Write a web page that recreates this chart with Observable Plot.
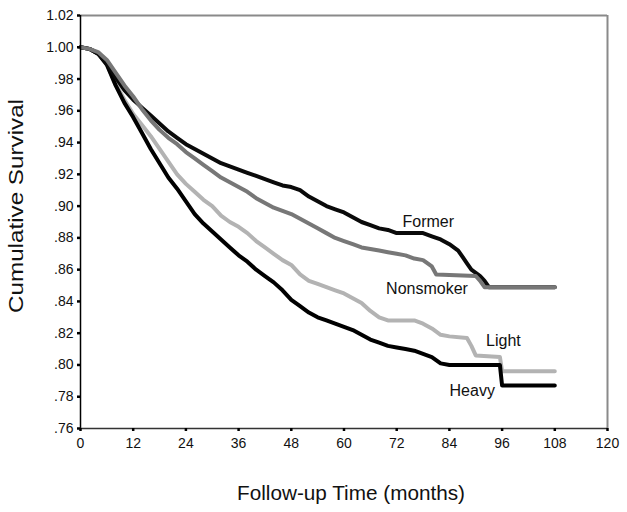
<!DOCTYPE html>
<html><head><meta charset="utf-8">
<script src="https://cdn.jsdelivr.net/npm/d3@7"></script>
<script src="https://cdn.jsdelivr.net/npm/@observablehq/plot@0.6"></script>
<style>body{margin:0;background:#fff;} svg{font-family:"Liberation Sans",Arial,sans-serif;}</style>
</head><body><div id="chart"></div>
<script>
const xTicks = [0, 12, 24, 36, 48, 60, 72, 84, 96, 108, 120];
const yTicks = [0.76, 0.78, 0.80, 0.82, 0.84, 0.86, 0.88, 0.90, 0.92, 0.94, 0.96, 0.98, 1.00, 1.02];

const formerMonths = [0,2,4,6,8,10,12,14,16,18,20,22,24,26,28,30,32,34,36,38,40,42,44,46,48,50,52,54,56,58,60,62,64,66,68,70,72,76,78,80,82,84,86,87,88,89,90,91,92,93,108];
const formerValues = [1.000,0.999,0.996,0.990,0.981,0.973,0.967,0.962,0.957,0.952,0.947,0.943,0.939,0.936,0.933,0.930,0.927,0.925,0.923,0.921,0.919,0.917,0.915,0.913,0.912,0.910,0.906,0.903,0.900,0.898,0.896,0.893,0.890,0.888,0.886,0.885,0.883,0.883,0.883,0.881,0.879,0.876,0.872,0.868,0.864,0.860,0.858,0.856,0.853,0.849,0.849];

const nonsmokerMonths = [0,2,4,6,8,10,12,14,16,18,20,22,24,26,28,30,32,34,36,38,40,42,44,46,48,50,52,54,56,58,60,62,64,66,68,70,72,74,76,78,80,81,90,91,92,108];
const nonsmokerValues = [1.000,0.999,0.997,0.992,0.984,0.976,0.969,0.961,0.954,0.948,0.943,0.939,0.934,0.930,0.926,0.922,0.918,0.915,0.912,0.909,0.905,0.902,0.899,0.897,0.895,0.892,0.889,0.886,0.883,0.880,0.878,0.876,0.874,0.873,0.872,0.871,0.870,0.869,0.867,0.866,0.862,0.857,0.856,0.853,0.849,0.849];

const lightMonths = [0,2,4,6,8,10,12,14,16,18,20,22,24,26,28,30,32,34,36,38,40,42,44,46,48,50,52,54,56,58,60,62,64,66,68,70,72,76,78,80,82,84,88,89,90,95.5,96,108];
const lightValues = [1.000,0.999,0.996,0.989,0.977,0.967,0.958,0.951,0.944,0.936,0.928,0.920,0.914,0.909,0.904,0.900,0.894,0.890,0.887,0.883,0.878,0.874,0.870,0.866,0.863,0.857,0.853,0.851,0.849,0.847,0.845,0.842,0.839,0.834,0.830,0.828,0.828,0.828,0.826,0.823,0.819,0.818,0.817,0.812,0.806,0.805,0.796,0.796];

const heavyMonths = [0,2,4,6,8,10,12,14,16,18,20,22,24,26,28,30,32,34,36,38,40,42,44,46,48,50,52,54,56,58,60,62,64,66,68,70,72,74,76,78,80,82,84,95.5,96,108];
const heavyValues = [1.000,0.999,0.996,0.989,0.976,0.965,0.956,0.946,0.936,0.927,0.918,0.911,0.903,0.895,0.889,0.884,0.879,0.874,0.869,0.865,0.860,0.856,0.852,0.847,0.841,0.837,0.833,0.830,0.828,0.826,0.824,0.822,0.819,0.816,0.814,0.812,0.811,0.810,0.809,0.807,0.805,0.801,0.800,0.800,0.787,0.787];

const seriesNames = ["Light", "Heavy", "Former", "Nonsmoker"];
const seriesColors = ["#b3b3b3", "#000000", "#0a0a0a", "#777777"];
const seriesMonths = [lightMonths, heavyMonths, formerMonths, nonsmokerMonths];
const seriesValues = [lightValues, heavyValues, formerValues, nonsmokerValues];

const labelNames = ["Former", "Nonsmoker", "Light", "Heavy"];
const labelMonths = [79.2, 78.9, 96.3, 89.2];
const labelValues = [0.890, 0.848, 0.815, 0.784];

const yFmt = d => d >= 1 ? d.toFixed(2) : d.toFixed(2).replace(/^0/, "");

const lineMarks = seriesNames.map((name, k) => {
  const rows = seriesMonths[k].map((m, i) => ({month: m, value: seriesValues[k][i]}));
  return Plot.line(rows, {x: "month", y: "value", stroke: seriesColors[k], strokeWidth: 4, curve: "linear", strokeLinejoin: "round"});
});

const labels = labelNames.map((n, i) => ({name: n, month: labelMonths[i], value: labelValues[i]}));

const chart = Plot.plot({
  width: 627, height: 512,
  marginLeft: 80, marginRight: 20, marginTop: 15, marginBottom: 84,
  x: {domain: [0, 120]},
  y: {domain: [0.76, 1.02]},
  marks: [
    Plot.ruleY([1.02], {stroke: "#8a8a8a", strokeWidth: 2}),
    Plot.ruleX([120], {stroke: "#8a8a8a", strokeWidth: 2}),
    ...lineMarks,
    Plot.ruleX([0], {stroke: "#000", strokeWidth: 1.5}),
    Plot.ruleY([0.76], {stroke: "#333", strokeWidth: 1.5}),
    Plot.axisX({ticks: xTicks, tickSize: 3, tickPadding: 7, fontSize: 14, label: null, stroke: "#000", strokeWidth: 2.5, color: "#111"}),
    Plot.axisY({ticks: yTicks, tickSize: 3, tickPadding: 4, fontSize: 14, label: null, tickFormat: yFmt, stroke: "#000", strokeWidth: 2.5, color: "#111"}),
    Plot.text(labels, {x: "month", y: "value", text: "name", fontSize: 16, fill: "#111", textAnchor: "middle", lineAnchor: "middle"})
  ]
});

const svg = d3.select(chart);
svg.append("text")
  .attr("transform", "translate(17,206) rotate(-90)")
  .attr("text-anchor", "middle").attr("dominant-baseline", "middle")
  .attr("font-size", 21).attr("fill", "#111")
  .attr("textLength", 214).attr("lengthAdjust", "spacingAndGlyphs")
  .text("Cumulative Survival");
svg.append("text")
  .attr("x", 351).attr("y", 495)
  .attr("text-anchor", "middle").attr("dominant-baseline", "middle")
  .attr("font-size", 20).attr("fill", "#111")
  .attr("textLength", 228).attr("lengthAdjust", "spacingAndGlyphs")
  .text("Follow-up Time (months)");

document.getElementById("chart").append(chart);
</script>
</body></html>
